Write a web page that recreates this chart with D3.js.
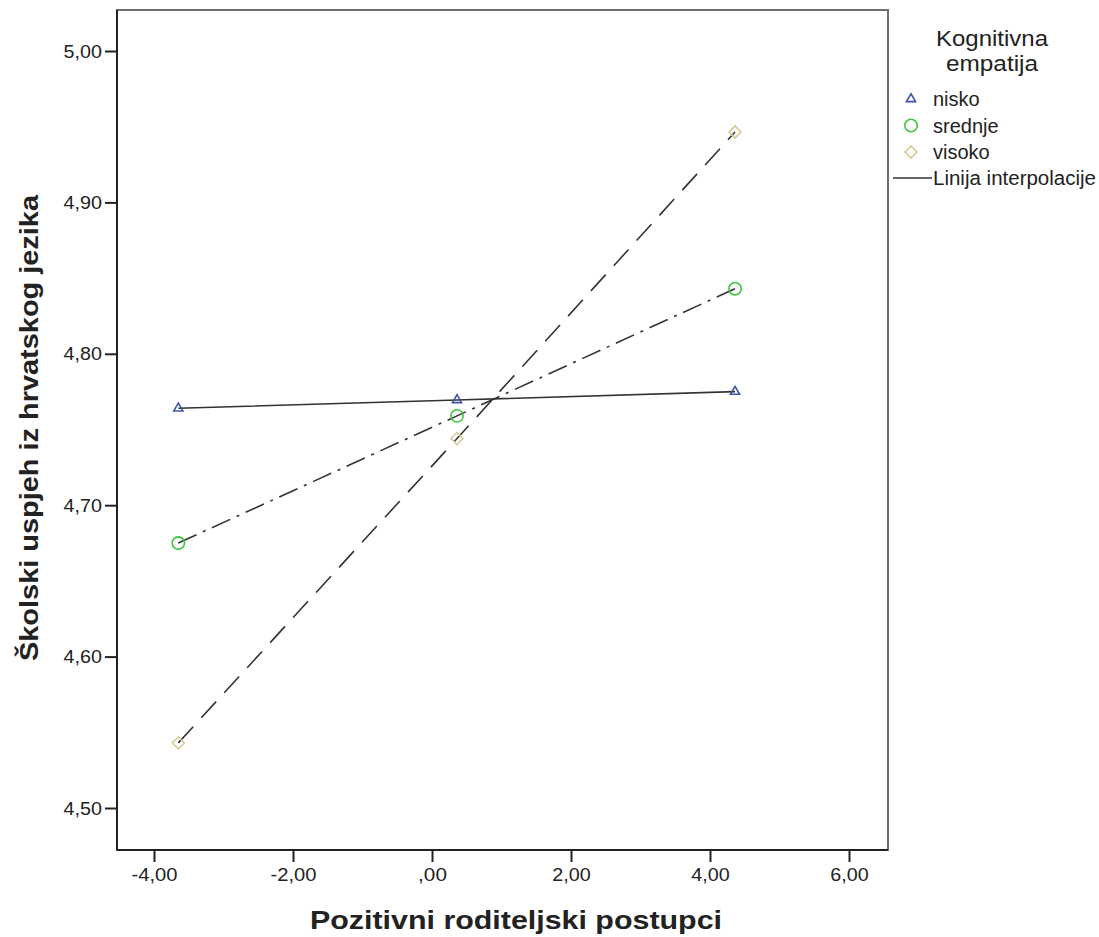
<!DOCTYPE html>
<html>
<head>
<meta charset="utf-8">
<script src="https://cdn.jsdelivr.net/npm/d3@7"></script>
<style>
  body { margin: 0; background: #fff; }
  text { font-family: "Liberation Sans", Arial, sans-serif; fill: #222; }
</style>
</head>
<body>
<div id="chart"></div>
<script>
// x values of the three groups (Pozitivni roditeljski postupci)
var xValues = [-3.65, 0.36, 4.36];
var groups = ["nisko", "srednje", "visoko"];
var niskoValues = [4.764, 4.7695, 4.775];
var srednjeValues = [4.675, 4.759, 4.843];
var visokoValues = [4.543, 4.744, 4.9465];
var xTicks = [-4, -2, 0, 2, 4, 6];
var yTicks = [4.5, 4.6, 4.7, 4.8, 4.9, 5.0];

var width = 1099, height = 937;
var margin = {top: 10, right: 211, bottom: 87, left: 117};

var svg = d3.select("#chart").append("svg")
    .attr("width", width)
    .attr("height", height);

var x = d3.scaleLinear().domain([-4, 6]).range([154, 849]);
var y = d3.scaleLinear().domain([4.5, 5.0]).range([808, 51]);

// SPSS style numbers: comma decimal, no leading zero, plain hyphen
var fmt = function(v){
    var s = Math.abs(v).toFixed(2).replace(".", ",").replace(/^0,/, ",");
    return (v < 0 ? "-" : "") + s;
};

// plot frame
svg.append("rect")
    .attr("x", margin.left)
    .attr("y", margin.top)
    .attr("width", width - margin.left - margin.right)
    .attr("height", height - margin.top - margin.bottom)
    .attr("fill", "none")
    .attr("stroke", "#6e6e6e")
    .attr("stroke-width", 2);

var plotBottom = height - margin.bottom;

// axes
var xAxis = svg.append("g")
    .attr("transform", "translate(0," + plotBottom + ")")
    .call(d3.axisBottom(x).tickValues(xTicks).tickFormat(fmt).tickSize(12).tickPadding(6));
xAxis.select(".domain").attr("d", "M" + margin.left + ",0H" + (width - margin.right));

var yAxis = svg.append("g")
    .attr("transform", "translate(" + margin.left + ",0)")
    .call(d3.axisLeft(y).tickValues(yTicks).tickFormat(fmt).tickSize(12).tickPadding(3));
yAxis.select(".domain").attr("d", "M0," + margin.top + "V" + plotBottom);

[xAxis, yAxis].forEach(function(a){
    a.selectAll(".domain").attr("stroke", "#222").attr("stroke-width", 2);
    a.selectAll(".tick line").attr("stroke", "#222").attr("stroke-width", 2);
    a.selectAll(".tick text").style("font-size", "19px").attr("fill", "#222")
        .attr("textLength", function(d){ return fmt(d).length * 9.6 - (fmt(d).indexOf("-") === 0 ? 2 : 0); })
        .attr("lengthAdjust", "spacingAndGlyphs");
});

// axis titles
svg.append("text")
    .attr("x", 516).attr("y", 929)
    .attr("text-anchor", "middle")
    .style("font-size", "26px").style("font-weight", "bold")
    .attr("textLength", 412).attr("lengthAdjust", "spacingAndGlyphs")
    .text("Pozitivni roditeljski postupci");

svg.append("text")
    .attr("transform", "translate(38,428) rotate(-90)")
    .attr("text-anchor", "middle")
    .style("font-size", "26px").style("font-weight", "bold")
    .attr("textLength", 466).attr("lengthAdjust", "spacingAndGlyphs")
    .text("Školski uspjeh iz hrvatskog jezika");

// series
var series = [
    {name: groups[0], values: niskoValues, dash: null, color: "#3c55aa", shape: d3.symbolTriangle, size: 36, rot: 0},
    {name: groups[1], values: srednjeValues, dash: "20,7,3,7", color: "#3ec73e", shape: d3.symbolCircle, size: 120, rot: 0},
    {name: groups[2], values: visokoValues, dash: "22,12", color: "#d6cc9c", shape: d3.symbolSquare, size: 72, rot: 45}
];

var line = d3.line()
    .x(function(d){ return x(d[0]); })
    .y(function(d){ return y(d[1]); });

series.forEach(function(s){
    var pts = xValues.map(function(v, i){ return [v, s.values[i]]; });
    svg.append("path")
        .datum(pts)
        .attr("d", line)
        .attr("fill", "none")
        .attr("stroke", "#333")
        .attr("stroke-width", 1.6)
        .attr("stroke-dasharray", s.dash);
});

series.forEach(function(s){
    svg.selectAll(null)
        .data(xValues.map(function(v, i){ return [v, s.values[i]]; }))
        .enter()
        .append("path")
        .attr("d", d3.symbol().type(s.shape).size(s.size))
        .attr("transform", function(d){
            return "translate(" + x(d[0]) + "," + y(d[1]) + ") rotate(" + s.rot + ")";
        })
        .attr("fill", "none")
        .attr("stroke", s.color)
        .attr("stroke-width", 1.6);
});

// legend
var legend = svg.append("g");
legend.append("text").attr("x", 992).attr("y", 46)
    .attr("text-anchor", "middle").style("font-size", "22px")
    .attr("textLength", 112).attr("lengthAdjust", "spacingAndGlyphs").text("Kognitivna");
legend.append("text").attr("x", 992).attr("y", 71)
    .attr("text-anchor", "middle").style("font-size", "22px")
    .attr("textLength", 92).attr("lengthAdjust", "spacingAndGlyphs").text("empatija");

series.forEach(function(s, i){
    var cy = 99 + i * 26.5;
    legend.append("path")
        .attr("d", d3.symbol().type(s.shape).size(s.size))
        .attr("transform", "translate(911," + cy + ") rotate(" + s.rot + ")")
        .attr("fill", "none")
        .attr("stroke", s.color)
        .attr("stroke-width", 1.6);
    legend.append("text").attr("x", 933).attr("y", cy + 7)
        .style("font-size", "20px").text(s.name);
});

legend.append("line")
    .attr("x1", 893).attr("x2", 932).attr("y1", 178).attr("y2", 178)
    .attr("stroke", "#333").attr("stroke-width", 1.6);
legend.append("text").attr("x", 933).attr("y", 185)
    .style("font-size", "20px").attr("textLength", 163).attr("lengthAdjust", "spacingAndGlyphs")
    .text("Linija interpolacije");
</script>
</body>
</html>
